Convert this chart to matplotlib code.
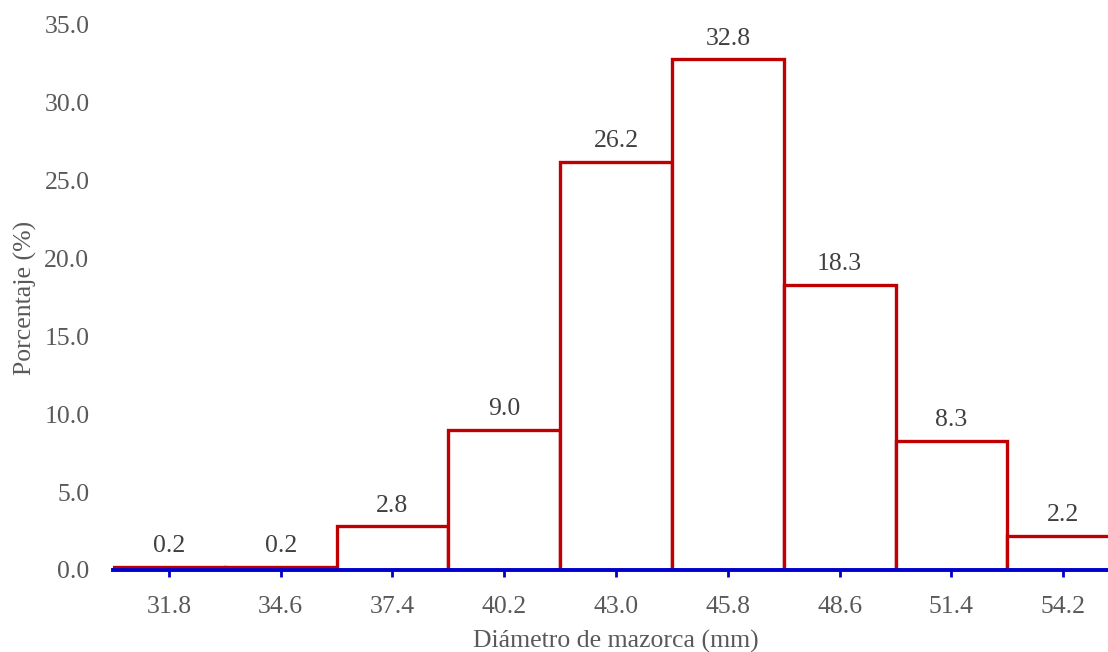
import matplotlib
matplotlib.use('Agg')
from matplotlib import pyplot as plt

categorias = ['31.8', '34.6', '37.4', '40.2', '43.0', '45.8', '48.6', '51.4', '54.2']
porcentaje = [0.2, 0.2, 2.8, 9.0, 26.2, 32.8, 18.3, 8.3, 2.2]
y_ticks = [0, 5, 10, 15, 20, 25, 30, 35]

GRIS = '#595959'
ROJO = '#C00000'
AZUL = '#0000CC'

plt.rcParams['font.family'] = ['Liberation Serif', 'DejaVu Serif']

fig = plt.figure(figsize=(11.08, 6.52), dpi=100)
ax = fig.add_axes([0.102, 0.1258, 0.908, 0.8359])

x = list(range(len(categorias)))
ax.bar(x, porcentaje, width=1.0, facecolor='white', edgecolor=ROJO, linewidth=2.4, zorder=2)

for xi, v in zip(x, porcentaje):
    ax.annotate('{:.1f}'.format(v), (xi, v), xytext=(0, 7), textcoords='offset points',
                ha='center', va='bottom', fontsize=18.5, color='#404040')

ax.set_xlim(-0.5, 8.5)
ax.set_ylim(0, 35)
ax.set_xticks(x)
ax.set_xticklabels(categorias)
ax.set_yticks(y_ticks)
ax.set_yticklabels(['{:.1f}'.format(t) for t in y_ticks])

for s in ['top', 'right', 'left']:
    ax.spines[s].set_visible(False)
ax.spines['bottom'].set_color(AZUL)
ax.spines['bottom'].set_linewidth(2.8)
ax.spines['bottom'].set_zorder(3)

ax.tick_params(axis='x', colors=GRIS, labelsize=18.5, length=5, width=2, color=AZUL, pad=14)
ax.tick_params(axis='y', colors=GRIS, labelsize=18.5, length=0, pad=17)

ax.set_xlabel('Diámetro de mazorca (mm)', fontsize=18.5, color=GRIS, labelpad=8)
ax.set_ylabel('Porcentaje (%)', fontsize=18.5, color=GRIS, labelpad=5)

fig.savefig('out.png', dpi=100)
